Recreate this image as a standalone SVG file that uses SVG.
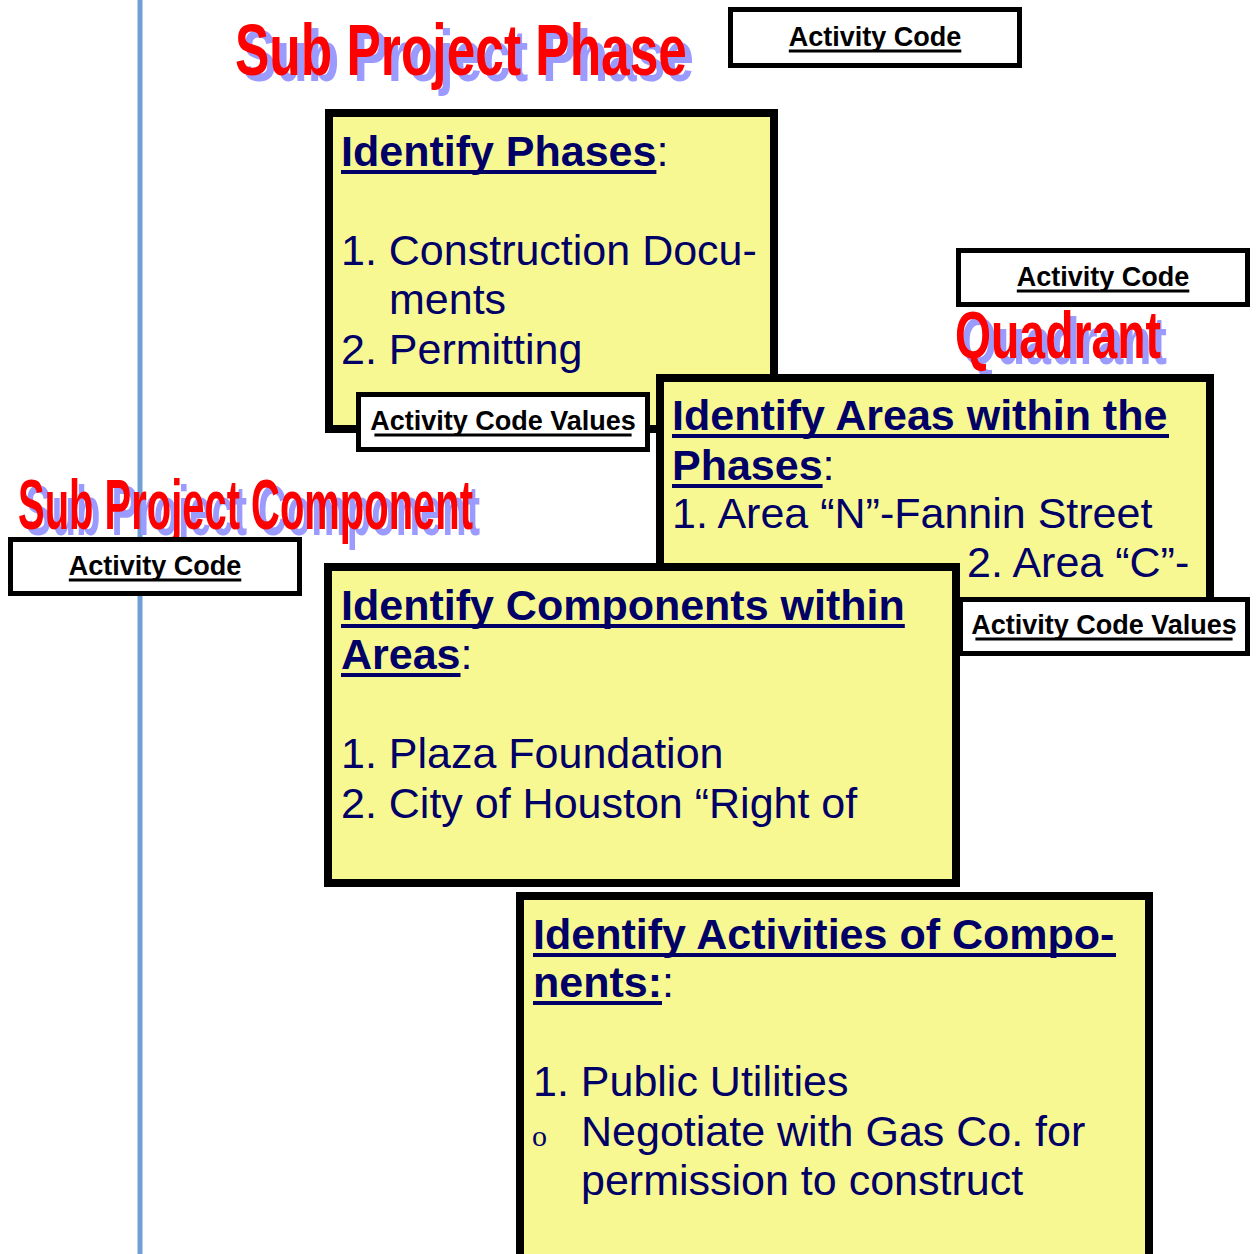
<svg xmlns="http://www.w3.org/2000/svg" width="1257" height="1254" viewBox="0 0 1257 1254">
  <style>
    .card { fill: #f8f892; stroke: #000; stroke-width: 8; }
    .tag { fill: #fff; stroke: #000; stroke-width: 5; }
    .tagtxt { font-family: "Liberation Sans", Arial, sans-serif; font-weight: bold; font-size: 27px; fill: #000; text-anchor: middle; }
    .tagline { fill: #000; }
    .head { font-family: "Liberation Sans", Arial, sans-serif; font-weight: bold; font-size: 43px; fill: #000066; }
    .headline { fill: #000066; }
    .colon { font-weight: normal; }
    .body { font-family: "Liberation Sans", Arial, sans-serif; font-size: 43px; fill: #000066; }
    .title { font-family: "Liberation Sans", Arial, sans-serif; font-weight: bold; }
    .shadow { fill: #9a9aff; }
    .red { fill: #ff0000; }
  </style>

  <!-- vertical guide rule -->
  <g id="guide">
    <line x1="140" y1="0" x2="140" y2="1254" stroke="#6f9fd6" stroke-width="5"/>
  </g>

  <!-- section titles with drop shadow -->
  <g id="title-phase" class="title">
    <text class="shadow" x="242" y="81" font-size="72" textLength="452" lengthAdjust="spacingAndGlyphs">Sub Project Phase</text>
    <text class="red" x="235" y="75" font-size="72" textLength="452" lengthAdjust="spacingAndGlyphs">Sub Project Phase</text>
  </g>
  <g id="title-component" class="title">
    <text class="shadow" x="25" y="535" font-size="70" textLength="455" lengthAdjust="spacingAndGlyphs">Sub Project Component</text>
    <text class="red" x="18" y="529" font-size="70" textLength="455" lengthAdjust="spacingAndGlyphs">Sub Project Component</text>
  </g>
  <g id="title-quadrant" class="title">
    <text class="shadow" x="961" y="364" font-size="67" textLength="206" lengthAdjust="spacingAndGlyphs">Quadrant</text>
    <text class="red" x="955" y="358" font-size="67" textLength="206" lengthAdjust="spacingAndGlyphs">Quadrant</text>
  </g>

  <!-- activity code tags -->
  <g id="tag-code-top">
    <rect class="tag" x="730.5" y="9.5" width="289" height="56"/>
    <text class="tagtxt" x="875" y="46">Activity Code</text>
    <rect class="tagline" x="788.8" y="49.5" width="172.5" height="3"/>
  </g>
  <g id="tag-code-right">
    <rect class="tag" x="958.5" y="250.5" width="289" height="54"/>
    <text class="tagtxt" x="1103" y="286">Activity Code</text>
    <rect class="tagline" x="1016.8" y="289.5" width="172.5" height="3"/>
  </g>

  <!-- phases card -->
  <g id="card-phases">
    <rect class="card" x="329" y="113" width="445" height="316"/>
    <text class="head" x="341" y="166">Identify Phases<tspan class="colon">:</tspan></text>
    <rect class="headline" x="341" y="170" width="315.4" height="4"/>
    <text class="body" x="341" y="265">1. Construction Docu-</text>
    <text class="body" x="389" y="314">ments</text>
    <text class="body" x="341" y="364">2. Permitting</text>
  </g>
  <g id="tag-values-phases">
    <rect class="tag" x="358.5" y="394.5" width="289" height="55"/>
    <text class="tagtxt" x="503" y="430" font-size="26">Activity Code Values</text>
    <rect class="tagline" x="374.4" y="433.5" width="257.2" height="3"/>
  </g>

  <!-- areas card -->
  <g id="card-areas">
    <rect class="card" x="660" y="378" width="550" height="228"/>
    <text class="head" x="672" y="430">Identify Areas within the</text>
    <rect class="headline" x="672" y="434" width="497" height="4"/>
    <text class="head" x="672" y="480">Phases<tspan class="colon">:</tspan></text>
    <rect class="headline" x="672" y="484" width="150.6" height="4"/>
    <text class="body" x="672" y="528">1. Area “N”-Fannin Street</text>
    <text class="body" x="967" y="577">2. Area “C”-</text>
  </g>
  <g id="tag-values-areas">
    <rect class="tag" x="960.5" y="599.5" width="287" height="54"/>
    <text class="tagtxt" x="1104" y="634" font-size="26">Activity Code Values</text>
    <rect class="tagline" x="975.4" y="637.5" width="257.2" height="3"/>
  </g>

  <g id="tag-code-left">
    <rect class="tag" x="10.5" y="539.5" width="289" height="54"/>
    <text class="tagtxt" x="155" y="575">Activity Code</text>
    <rect class="tagline" x="68.8" y="578.5" width="172.5" height="3"/>
  </g>

  <!-- components card -->
  <g id="card-components">
    <rect class="card" x="328" y="567" width="628" height="316"/>
    <text class="head" x="341" y="620">Identify Components within</text>
    <rect class="headline" x="341" y="624" width="563.8" height="4"/>
    <text class="head" x="341" y="669">Areas<tspan class="colon">:</tspan></text>
    <rect class="headline" x="341" y="673" width="119.5" height="4"/>
    <text class="body" x="341" y="768">1. Plaza Foundation</text>
    <text class="body" x="341" y="818">2. City of Houston “Right of</text>
  </g>

  <!-- activities card -->
  <g id="card-activities">
    <rect class="card" x="520" y="896" width="629" height="380"/>
    <text class="head" x="533" y="949">Identify Activities of Compo-</text>
    <rect class="headline" x="533" y="953" width="583" height="4"/>
    <text class="head" x="533" y="997">nents:<tspan class="colon">:</tspan></text>
    <rect class="headline" x="533" y="1001" width="129" height="4"/>
    <text class="body" x="533" y="1096">1. Public Utilities</text>
    <text x="532" y="1146" font-family="'Liberation Serif', 'Times New Roman', serif" font-size="30" fill="#000066">o</text>
    <text class="body" x="581" y="1146">Negotiate with Gas Co. for</text>
    <text class="body" x="581" y="1195">permission to construct</text>
  </g>
</svg>
